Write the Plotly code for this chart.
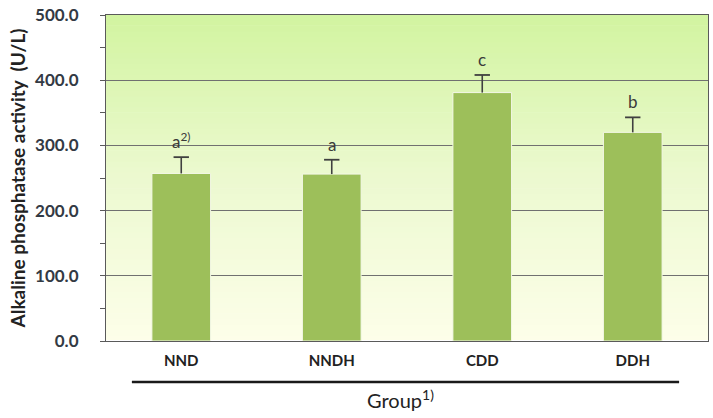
import plotly.graph_objects as go

groups = ["NND", "NNDH", "CDD", "DDH"]
means = [257, 256, 381, 320]
errors = [25, 22, 27, 23]
letters = ["a<sup>2)</sup>", "a", "c", "b"]
yticks = [0, 100, 200, 300, 400, 500]
ytick_text = ["0.0", "100.0", "200.0", "300.0", "400.0", "500.0"]

FONT = "Lato"
TXT = "#3a3a3a"

tops = [m + e for m, e in zip(means, errors)]

fig = go.Figure()
fig.add_trace(go.Bar(
    x=groups, y=means, width=0.39,
    marker=dict(color="#9dbf5a", line=dict(color="#f4f8e8", width=1)),
    showlegend=False, hoverinfo="skip",
))
# upper-only error bars: stem from error bar, cap from marker
fig.add_trace(go.Scatter(
    x=groups, y=tops, mode="markers",
    marker=dict(symbol="line-ew-open", size=11, color="#404040",
                line=dict(color="#404040", width=1.8)),
    error_y=dict(type="data", array=[0] * len(groups), arrayminus=errors, symmetric=False,
                 color="#404040", thickness=1.6, width=0),
    showlegend=False,
))

for g, tp, t in zip(groups, tops, letters):
    fig.add_annotation(x=g, y=tp, text=t, showarrow=False, yanchor="bottom",
                       yshift=3, font=dict(family=FONT, size=17, color=TXT))

# gradient background strips
n = 60
top = (210, 244, 160)
mid = (236, 249, 208)
bot = (253, 254, 233)
for i in range(n):
    f = (i + 0.5) / n
    if f < 0.5:
        t = f / 0.5
        c = [bot[k] + (mid[k] - bot[k]) * t for k in range(3)]
    else:
        t = (f - 0.5) / 0.5
        c = [mid[k] + (top[k] - mid[k]) * t for k in range(3)]
    col = "rgb(%d,%d,%d)" % tuple(int(round(v)) for v in c)
    fig.add_shape(type="rect", xref="x domain", yref="y domain",
                  x0=0, x1=1, y0=i / n, y1=(i + 1) / n + 0.002,
                  fillcolor=col, line=dict(width=0), layer="below")

# line under category labels
fig.add_shape(type="line", xref="paper", yref="paper", x0=0.043, x1=0.952,
              y0=-0.1257, y1=-0.1257, line=dict(color="#1a1a1a", width=2.5))

fig.add_annotation(xref="paper", yref="paper", x=0.49, y=-0.225, text="Group<sup>1)</sup>",
                   showarrow=False, xanchor="center", yanchor="bottom",
                   font=dict(family=FONT, size=20, color="#222222"))

fig.update_layout(
    width=713, height=418,
    margin=dict(l=106, r=4, t=7, b=77),
    paper_bgcolor="white", plot_bgcolor="rgba(0,0,0,0)",
    xaxis=dict(
        showline=True, linecolor="#5a5a5a", linewidth=1.2, mirror=True,
        ticks="", tickfont=dict(family=FONT, size=15, color="#222222", weight="bold"),
        ticklabelstandoff=6,
        showgrid=False, range=[-0.5, 3.5],
        minor=dict(ticks="outside", ticklen=5, tickcolor="#5a5a5a", showgrid=False),
    ),
    yaxis=dict(
        range=[0, 500], tickvals=yticks, ticktext=ytick_text,
        showline=True, linecolor="#5a5a5a", linewidth=1.2, mirror=True,
        ticks="outside", ticklen=5, tickcolor="#5a5a5a",
        showgrid=True, gridcolor="#707070", gridwidth=1,
        tickfont=dict(family=FONT, size=17, color="#333a44", weight="bold"),
        ticklabelstandoff=18, ticklabeloverflow="allow",
        minor=dict(dtick=50, ticks="outside", ticklen=5, tickcolor="#5a5a5a", showgrid=False),
        title=dict(text="Alkaline phosphatase activity  (U/L)", standoff=4,
                   font=dict(family=FONT, size=19, color="#222222", weight="bold")),
    ),
)

fig.write_html("out.html")
